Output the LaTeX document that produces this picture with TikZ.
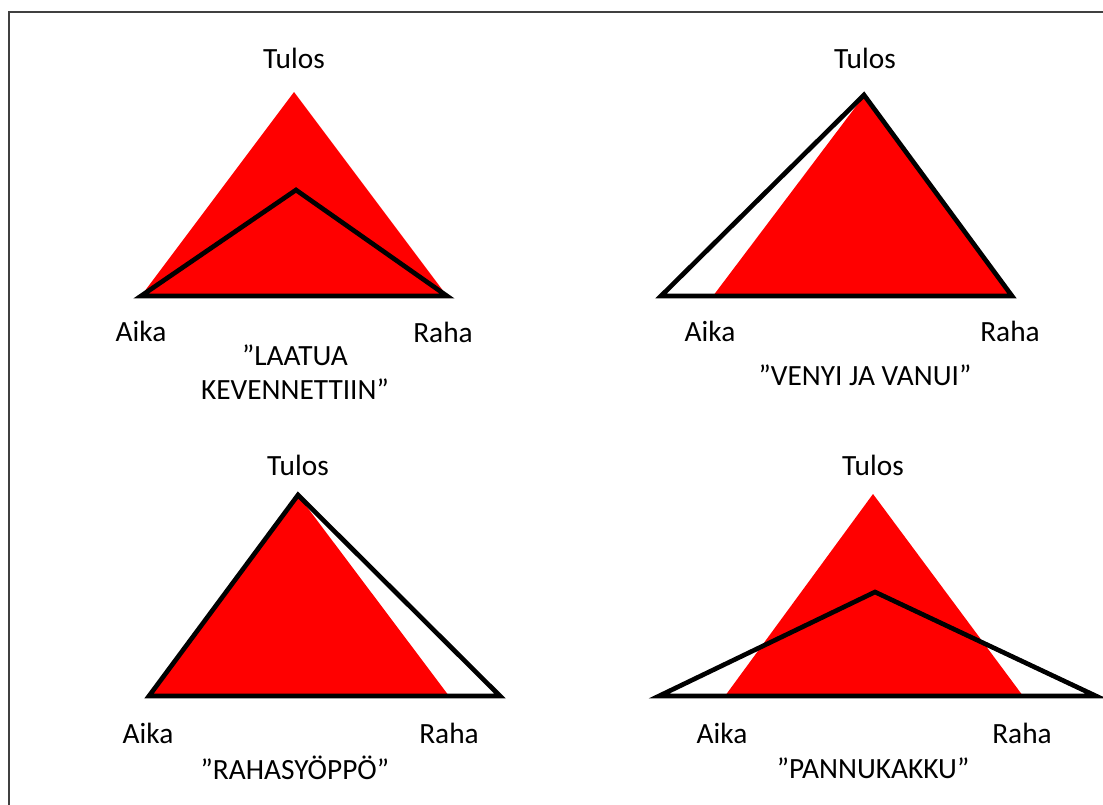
\documentclass[tikz,border=0pt]{standalone}
\usepackage{fontspec}
\setmainfont{Carlito}
\definecolor{frame}{RGB}{64,64,64}
\definecolor{fillred}{RGB}{255,0,0}

\begin{document}
\begin{tikzpicture}[x=0.75pt,y=-0.75pt,redtri/.style={fill=fillred,draw=none},outline/.style={draw=black,line width=3.5pt,line join=miter,miter limit=20},lbl/.style={font=\fontsize{22}{25}\selectfont,inner sep=0pt,align=center}]
\useasboundingbox (0,0) rectangle (1103,805);
\draw[frame,line width=1.2pt] (9,12) rectangle (1120,820);
% laatua kevennettiin
\fill[redtri] (294,92) -- (141,296) -- (447,296) -- cycle;
\draw[outline] (141,296) -- (296,190) -- (447,296) -- cycle;
\node[lbl] (tulosA) at (294,58) {Tulos};
\node[lbl] (aikaA) at (141,331) {Aika};
\node[lbl] (rahaA) at (443,332) {Raha};
\node[lbl] (nimiA) at (295,372) {”LAATUA\\KEVENNETTIIN”};
% venyi ja vanui
\fill[redtri] (863,97) -- (713,296) -- (1012,296) -- cycle;
\draw[outline] (864,95) -- (661,296) -- (1012,296) -- cycle;
\node[lbl] (tulosB) at (865,58) {Tulos};
\node[lbl] (aikaB) at (710,331) {Aika};
\node[lbl] (rahaB) at (1010,331) {Raha};
\node[lbl] (nimiB) at (865,375) {”VENYI JA VANUI”};
% rahasyoppo
\fill[redtri] (298,495) -- (149,696) -- (449,696) -- cycle;
\draw[outline] (298,495) -- (149,696) -- (500,696) -- cycle;
\node[lbl] (tulosC) at (298,465) {Tulos};
\node[lbl] (aikaC) at (148,733) {Aika};
\node[lbl] (rahaC) at (449,733) {Raha};
\node[lbl] (nimiC) at (295,768) {”RAHASYÖPPÖ”};
% pannukakku
\fill[redtri] (873,494) -- (725,696) -- (1023,696) -- cycle;
\draw[outline] (875,592) -- (659,696) -- (1096,696) -- cycle;
\node[lbl] (tulosD) at (873,465) {Tulos};
\node[lbl] (aikaD) at (722,733) {Aika};
\node[lbl] (rahaD) at (1022,733) {Raha};
\node[lbl] (nimiD) at (873,768) {”PANNUKAKKU”};
\end{tikzpicture}
\end{document}
